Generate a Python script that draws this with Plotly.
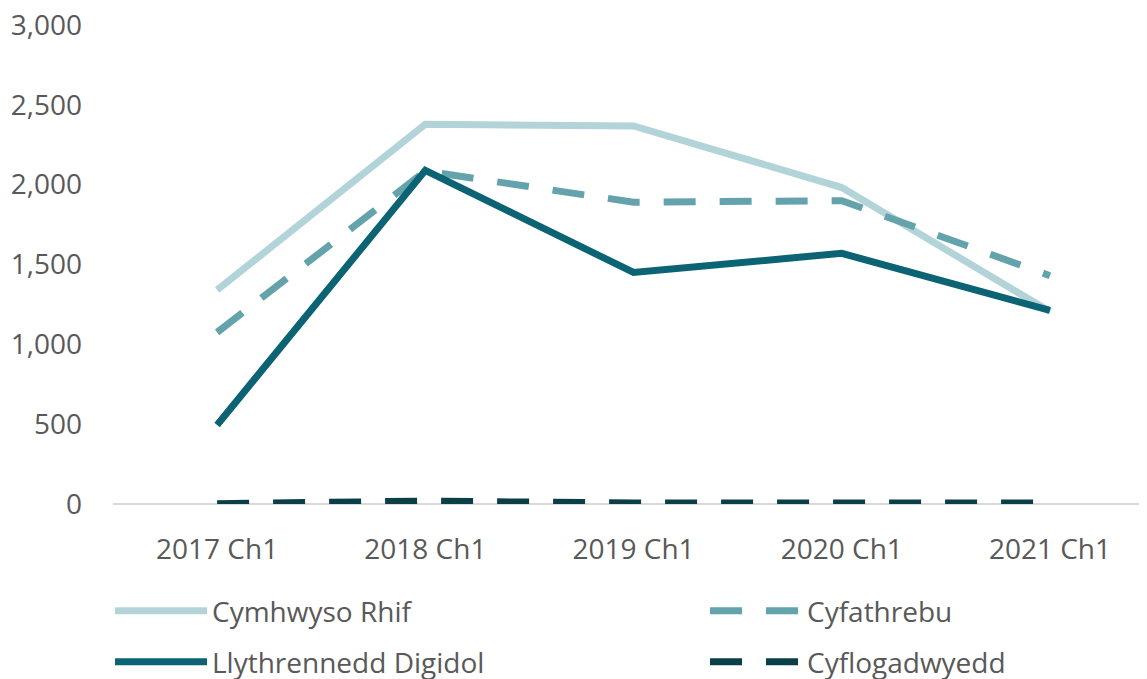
import plotly.graph_objects as go

categories = ["2017 Ch1", "2018 Ch1", "2019 Ch1", "2020 Ch1", "2021 Ch1"]
cymhwyso_rhif = [1340, 2378, 2368, 1982, 1205]
cyfathrebu = [1075, 2085, 1890, 1900, 1430]
llythrennedd_digidol = [495, 2090, 1450, 1570, 1212]
cyflogadwyedd = [2, 18, 6, 6, 6]

y_ticks = [0, 500, 1000, 1500, 2000, 2500, 3000]

FONT = "Open Sans, Segoe UI, sans-serif"
TXT = "#595959"
W, H = 1147, 679
OFF = 8  # page body margin offset

fig = go.Figure()
fig.add_trace(go.Scatter(x=categories, y=cymhwyso_rhif, name="Cymhwyso Rhif", mode="lines",
                         line=dict(color="#B2D4D9", width=7), legend="legend"))
fig.add_trace(go.Scatter(x=categories, y=cyfathrebu, name="Cyfathrebu", mode="lines",
                         line=dict(color="#65A3AC", width=7, dash="32px,24px"), legend="legend2"))
fig.add_trace(go.Scatter(x=categories, y=llythrennedd_digidol, name="Llythrennedd Digidol", mode="lines",
                         line=dict(color="#0B6373", width=7), legend="legend3"))
fig.add_trace(go.Scatter(x=categories, y=cyflogadwyedd, name="Cyflogadwyedd", mode="lines",
                         line=dict(color="#0B3F47", width=7, dash="32px,24px"), legend="legend4"))


def leg(px_x, px_y):
    return dict(xref="container", yref="container", x=(px_x - OFF) / W, y=1 - (px_y - OFF) / H,
                xanchor="left", yanchor="middle", itemwidth=92,
                font=dict(family=FONT, size=28, color=TXT), bgcolor="rgba(0,0,0,0)")


fig.update_layout(
    width=W, height=H,
    margin=dict(l=113 - OFF, r=OFF, t=25 - OFF, b=175 + OFF, autoexpand=False),
    paper_bgcolor="white", plot_bgcolor="white",
    font=dict(family=FONT, size=28, color=TXT),
    xaxis=dict(type="category", range=[-0.5, 4.466], showgrid=False, zeroline=False,
               showline=False, ticks="", ticklabelstandoff=26, automargin=False,
               ticklabeloverflow="allow", tickfont=dict(size=28, color=TXT)),
    yaxis=dict(range=[0, 3000], tickvals=y_ticks, tickformat=",", showgrid=False,
               zeroline=True, zerolinecolor="#D9D9D9", zerolinewidth=2, automargin=False,
               ticks="", ticklabelstandoff=30, ticklabeloverflow="allow",
               tickfont=dict(size=28, color=TXT)),
    legend=leg(110, 611),
    legend2=leg(705, 611),
    legend3=leg(110, 662),
    legend4=leg(705, 662),
    showlegend=True,
)

fig.write_html("out.html")
